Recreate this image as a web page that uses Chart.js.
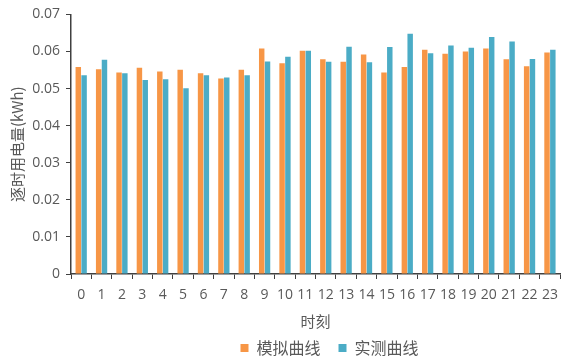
<!DOCTYPE HTML>
<html>
<head>
  <meta charset="utf-8">
  <title>逐时用电量</title>
  <script src="https://cdn.jsdelivr.net/npm/chart.js"></script>
  <style>
    html, body { margin: 0; padding: 0; background: #fff; }
    .chart-container { position: relative; width: 566px; height: 360px; }
  </style>
</head>
<body>
  <div class="chart-container">
    <canvas id="hourChart"></canvas>
  </div>
  <script type="text/javascript">
    // hours 0..23
    var xvarhour = ["0", "1", "2", "3", "4", "5", "6", "7", "8", "9", "10", "11", "12", "13", "14", "15", "16", "17", "18", "19", "20", "21", "22", "23"];
    // 模拟曲线 (simulated)
    var yvarsim = [0.0558, 0.0552, 0.0543, 0.0556, 0.0546, 0.0551, 0.0541, 0.0527, 0.0551, 0.0608, 0.0568, 0.0602,
                   0.0579, 0.0572, 0.0592, 0.0543, 0.0558, 0.0605, 0.0594, 0.0600, 0.0608, 0.0579, 0.0560, 0.0597];
    // 实测曲线 (measured)
    var yvarmeas = [0.0536, 0.0578, 0.0541, 0.0523, 0.0525, 0.0501, 0.0536, 0.0530, 0.0536, 0.0573, 0.0586, 0.0602,
                    0.0572, 0.0613, 0.0571, 0.0612, 0.0648, 0.0595, 0.0616, 0.0610, 0.0639, 0.0627, 0.0580, 0.0605];

    var textColor = '#595959';
    var axisColor = '#404040';
    var numFont = { family: "'Open Sans', 'Liberation Sans', sans-serif", size: 14 };
    var cjkFont = { family: "'Noto Sans CJK SC', sans-serif", size: 15 };

    // fixed legend height, then nudge it under the plot centre like the original
    var legendPlace = {
      id: 'legendPlace',
      beforeInit: function (chart) {
        var fit = chart.legend.fit;
        chart.legend.fit = function () { fit.bind(chart.legend)(); this.height = 30; };
      },
      afterLayout: function (chart) {
        var lg = chart.legend;
        lg.left += 48; lg.right += 48;
        lg.top -= 8; lg.bottom = lg.top + 50;
      }
    };

    const ctx_hour = document.getElementById('hourChart');
    var Charthour = new Chart(ctx_hour, {
      type: 'bar',
      plugins: [legendPlace],
      data: {
        labels: xvarhour,
        datasets: [
          {
            label: '模拟曲线',
            data: yvarsim,
            backgroundColor: '#F79646',
            categoryPercentage: 0.57,
            barPercentage: 0.94,
          },
          {
            label: '实测曲线',
            data: yvarmeas,
            backgroundColor: '#4BACC6',
            categoryPercentage: 0.57,
            barPercentage: 0.94,
          },
        ],
      },
      options: {
        responsive: true,
        maintainAspectRatio: false,
        animation: false,
        layout: { padding: { top: 13, right: 3, left: 0, bottom: 0 } },
        scales: {
          x: {
            grid: { display: true, drawOnChartArea: false, offset: true, color: axisColor, tickLength: 5 },
            border: { color: axisColor, width: 1.5 },
            ticks: { color: textColor, font: numFont, padding: 8, maxRotation: 0, autoSkip: false },
            title: { display: true, text: '时刻', color: textColor, font: cjkFont, padding: { top: 2, bottom: 0 } },
            afterFit: function (scale) { scale.height = 56; },
          },
          y: {
            min: 0,
            max: 0.07,
            grid: { display: true, drawOnChartArea: false, color: axisColor, tickLength: 5 },
            border: { color: axisColor, width: 1.5 },
            ticks: {
              stepSize: 0.01,
              color: textColor,
              font: numFont,
              padding: 6,
              callback: function (v) { return v === 0 ? '0' : v.toFixed(2); },
            },
            title: { display: true, text: '逐时用电量(kWh)', color: textColor, font: cjkFont, padding: { top: 8, bottom: 4 } },
            afterFit: function (scale) { scale.width = 71; },
          },
        },
        plugins: {
          legend: {
            position: 'bottom',
            labels: {
              color: textColor,
              font: { family: "'Noto Sans CJK SC', sans-serif", size: 16 },
              boxWidth: 8,
              boxHeight: 8,
              padding: 18,
            },
          },
          tooltip: { enabled: false },
        },
      },
    });
  </script>
</body>
</html>
